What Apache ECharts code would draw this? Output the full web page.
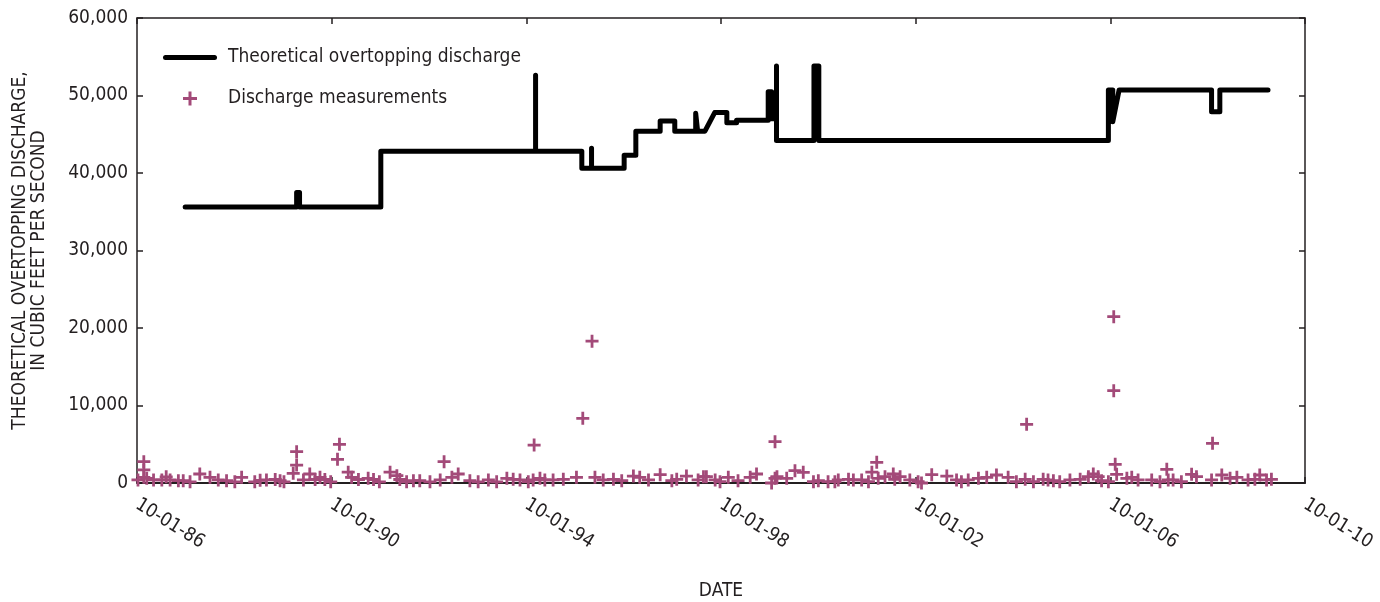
<!DOCTYPE html>
<html>
<head>
<meta charset="utf-8">
<script src="https://cdn.jsdelivr.net/npm/echarts@6/dist/echarts.min.js"></script>
<style>
html,body{margin:0;padding:0;background:#fff;}
#chart{width:1380px;height:602px;}
</style>
</head>
<body>
<div id="chart"></div>
<script>
// ---- Data ----
const xTickLabels = ['10-01-86','10-01-90','10-01-94','10-01-98','10-01-02','10-01-06','10-01-10'];
const yTickLabels = ['0','10,000','20,000','30,000','40,000','50,000','60,000'];
const axisStartYear = 1986.75; // 10-01-86

// Theoretical overtopping discharge (decimal years, cfs)
const lineDates = [
  1987.74,1990.03,1990.03,1990.09,1990.09,1991.76,1991.76,1994.94,1994.94,1994.94,
  1995.89,1995.89,1996.09,1996.09,1996.09,1996.76,1996.76,1997.00,1997.00,1997.50,
  1997.50,1997.80,1997.80,1998.23,1998.23,1998.27,1998.27,1998.42,1998.62,1998.87,
  1998.87,1999.07,1999.07,1999.72,1999.72,1999.79,1999.79,1999.89,1999.89,1999.89,
  2000.66,2000.66,2000.76,2000.76,2006.71,2006.71,2006.75,2006.80,2006.80,2006.93,
  2008.83,2008.83,2009.00,2009.00,2009.99
];
const lineValues = [
  35600,35600,37500,37500,35600,35600,42800,42800,52600,42800,
  42800,40600,40600,43200,40600,40600,42300,42300,45400,45400,
  46700,46700,45400,45400,47700,47700,45400,45400,47800,47800,
  46500,46500,46800,46800,50500,50500,47000,47000,53800,44200,
  44200,53800,53800,44200,44200,50700,50700,50700,46600,50700,
  50700,47900,47900,50700,50700
];

// Discharge measurements (decimal years, cfs)
const measDates = [
  1986.77,1986.89,1986.89,1986.89,1986.95,1987.09,1987.26,1987.35,1987.43,1987.60,
  1987.70,1987.84,1988.04,1988.25,1988.42,1988.59,1988.76,1988.90,1989.17,1989.28,
  1989.41,1989.59,1989.69,1989.77,1989.96,1990.03,1990.03,1990.17,1990.30,1990.41,
  1990.51,1990.61,1990.73,1990.87,1990.91,1991.09,1991.16,1991.30,1991.50,1991.61,
  1991.73,1991.95,1992.09,1992.15,1992.29,1992.43,1992.56,1992.77,1992.98,1993.06,
  1993.22,1993.35,1993.59,1993.76,1993.97,1994.14,1994.35,1994.48,1994.62,1994.79,
  1994.89,1994.91,1995.03,1995.13,1995.30,1995.51,1995.78,1995.91,1996.10,1996.16,
  1996.33,1996.54,1996.71,1996.95,1997.08,1997.26,1997.50,1997.74,1997.84,1998.04,
  1998.28,1998.39,1998.45,1998.63,1998.73,1998.90,1999.10,1999.35,1999.48,1999.79,
  1999.86,1999.86,1999.90,2000.10,2000.27,2000.44,2000.65,2000.75,2000.95,2001.09,
  2001.16,2001.37,2001.47,2001.64,2001.78,2001.85,2001.95,2001.98,2002.12,2002.29,
  2002.32,2002.43,2002.63,2002.80,2002.87,2003.08,2003.39,2003.59,2003.69,2003.83,
  2004.04,2004.21,2004.41,2004.65,2004.82,2005.00,2005.03,2005.17,2005.37,2005.47,
  2005.58,2005.71,2005.92,2006.13,2006.30,2006.40,2006.50,2006.57,2006.71,2006.82,
  2006.82,2006.85,2006.88,2007.09,2007.19,2007.32,2007.60,2007.77,2007.91,2007.94,
  2008.04,2008.21,2008.42,2008.52,2008.83,2008.85,2009.04,2009.21,2009.35,2009.58,
  2009.72,2009.82,2009.96,2010.06
];
const measValues = [
  400,2750,1680,730,600,400,400,800,400,300,
  300,150,1160,730,400,300,150,730,150,350,
  400,450,300,150,1250,4040,2320,400,1160,450,
  730,450,150,3060,4990,1400,730,450,600,450,
  150,1400,950,450,150,300,300,150,390,2750,
  730,1160,300,150,390,150,600,470,390,170,
  390,4900,600,390,390,470,730,8350,18300,730,
  390,470,300,900,730,390,1070,300,470,900,
  390,820,820,390,170,730,300,730,1160,0,
  600,5330,820,600,1590,1380,170,300,170,170,
  390,470,390,390,170,1400,2670,600,820,1160,
  470,820,390,170,0,1070,900,390,170,390,
  600,730,1030,730,170,470,7570,170,470,390,
  300,170,390,470,820,1160,820,300,170,21460,
  11910,2410,1120,600,730,390,390,170,1760,390,
  390,170,1120,820,390,5120,1030,600,730,390,
  470,1030,390,470
];

// ---- Build series data ----
const toX = d => d - axisStartYear;
const lineData = lineDates.map((d, i) => [toX(d), lineValues[i]]);
const measData = measDates.map((d, i) => [toX(d), measValues[i]]);

const FONT = "'Liberation Sans Narrow','DejaVu Sans Condensed','Roboto Condensed','Arial Narrow',sans-serif";
const AXIS_COLOR = '#231f20';
const MEAS_COLOR = '#a34a79';
const PLUS = 'path://M5.5,0H8.5V5.5H14V8.5H8.5V14H5.5V8.5H0V5.5H5.5Z';
const LEGEND_LINE = 'path://M2.5,0H51.5A2.5,2.5,0,0,1,51.5,5H2.5A2.5,2.5,0,0,1,2.5,0Z';

const chart = echarts.init(document.getElementById('chart'), null, {renderer: 'canvas'});
chart.setOption({
  animation: false,
  backgroundColor: '#ffffff',
  textStyle: {fontFamily: FONT},
  grid: {left: 137, right: 75, top: 18, bottom: 119, containLabel: false, outerBoundsMode: 'none'},
  legend: {
    orient: 'vertical',
    left: 158,
    top: 43,
    itemWidth: 54,
    itemHeight: 14,
    itemGap: 22,
    symbolKeepAspect: true,
    textStyle: {fontFamily: FONT, fontSize: 19, color: '#231f20', padding: [0, 0, 0, 6]},
    data: [
      {name: 'Theoretical overtopping discharge', icon: LEGEND_LINE, itemStyle: {color: '#000000'}},
      {name: 'Discharge measurements', icon: PLUS}
    ]
  },
  xAxis: [{
    type: 'value',
    min: 0, max: 24, interval: 4,
    name: 'DATE',
    nameLocation: 'middle',
    nameGap: 99,
    nameTextStyle: {fontFamily: FONT, fontSize: 19, color: '#231f20'},
    axisLine: {show: true, onZero: false, lineStyle: {color: AXIS_COLOR, width: 2}},
    axisTick: {show: true, inside: true, length: 6, lineStyle: {color: AXIS_COLOR, width: 1.5}},
    axisLabel: {
      rotate: -32, margin: 20, fontFamily: FONT, fontSize: 19, color: '#231f20',
      formatter: v => xTickLabels[Math.round(v / 4)]
    },
    splitLine: {show: false}
  }, {
    type: 'value', position: 'top',
    min: 0, max: 24, interval: 4,
    axisLine: {show: true, onZero: false, lineStyle: {color: AXIS_COLOR, width: 1.5}},
    axisTick: {show: true, inside: true, length: 6, lineStyle: {color: AXIS_COLOR, width: 1.5}},
    axisLabel: {show: false},
    splitLine: {show: false}
  }],
  yAxis: [{
    type: 'value',
    min: 0, max: 60000, interval: 10000,
    name: 'THEORETICAL OVERTOPPING DISCHARGE,\nIN CUBIC FEET PER SECOND',
    nameLocation: 'middle',
    nameGap: 88,
    nameTextStyle: {fontFamily: FONT, fontSize: 19, color: '#231f20', lineHeight: 19},
    axisLine: {show: true, onZero: false, lineStyle: {color: AXIS_COLOR, width: 1.5}},
    axisTick: {show: true, inside: true, length: 6, lineStyle: {color: AXIS_COLOR, width: 1.5}},
    axisLabel: {
      margin: 9, fontFamily: FONT, fontSize: 19, color: '#231f20',
      formatter: v => yTickLabels[Math.round(v / 10000)]
    },
    splitLine: {show: false}
  }, {
    type: 'value', position: 'right',
    min: 0, max: 60000, interval: 10000,
    axisLine: {show: true, onZero: false, lineStyle: {color: AXIS_COLOR, width: 1.5}},
    axisTick: {show: true, inside: true, length: 6, lineStyle: {color: AXIS_COLOR, width: 1.5}},
    axisLabel: {show: false},
    splitLine: {show: false}
  }],
  series: [{
    name: 'Theoretical overtopping discharge',
    type: 'line',
    data: lineData,
    showSymbol: false,
    symbol: 'none',
    color: '#000000',
    lineStyle: {color: '#000000', width: 5, cap: 'round', join: 'round'},
    z: 3
  }, {
    name: 'Discharge measurements',
    type: 'scatter',
    data: measData,
    symbol: PLUS,
    symbolSize: 13,
    clip: false,
    itemStyle: {color: MEAS_COLOR, opacity: 1},
    z: 4
  }]
});
</script>
</body>
</html>
